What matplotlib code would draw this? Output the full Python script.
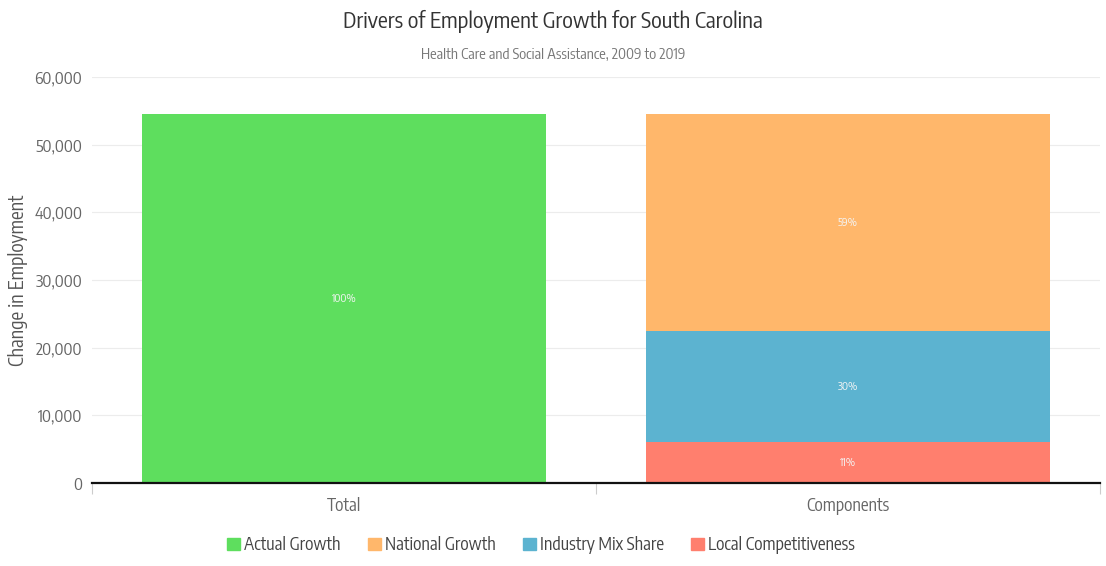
import matplotlib
matplotlib.use("Agg")
import matplotlib.pyplot as plt
from matplotlib.patches import Patch

plt.rcParams['font.family'] = ['Encode Sans Condensed', 'DejaVu Sans']
plt.rcParams['font.weight'] = 'normal'

categories = ["Total", "Components"]
actual_growth = [54500, 0]
local_competitiveness = [0, 6000]
industry_mix = [0, 16400]
national_growth = [0, 32100]
segment_labels = {
    "actual": ["100%", None],
    "local": [None, "11%"],
    "mix": [None, "30%"],
    "national": [None, "59%"],
}
y_ticks = [0, 10000, 20000, 30000, 40000, 50000, 60000]

colors = {
    "actual": "#5ede5e",
    "national": "#ffb76b",
    "mix": "#5cb3d0",
    "local": "#ff7f6e",
}

fig = plt.figure(figsize=(11.06, 5.66), dpi=100)
ax = fig.add_axes([92 / 1106, 1 - 483 / 566, 1008 / 1106, 406 / 566])

x = list(range(len(categories)))
w = 0.8
ax.bar(x, actual_growth, width=w, color=colors["actual"], zorder=2)
ax.bar(x, local_competitiveness, width=w, color=colors["local"], zorder=2)
bottom2 = local_competitiveness
ax.bar(x, industry_mix, width=w, bottom=bottom2, color=colors["mix"], zorder=2)
bottom3 = [a + b for a, b in zip(local_competitiveness, industry_mix)]
ax.bar(x, national_growth, width=w, bottom=bottom3, color=colors["national"], zorder=2)

def label_segments(values, bottoms, labels):
    for i, (v, b, t) in enumerate(zip(values, bottoms, labels)):
        if t:
            ax.text(i, b + v / 2, t, ha="center", va="center",
                    color="#f4f4f4", fontsize=8, zorder=3)

label_segments(actual_growth, [0, 0], segment_labels["actual"])
label_segments(local_competitiveness, [0, 0], segment_labels["local"])
label_segments(industry_mix, bottom2, segment_labels["mix"])
label_segments(national_growth, bottom3, segment_labels["national"])

ax.set_xlim(-0.5, len(categories) - 0.5)
ax.set_ylim(0, 60000)
ax.set_yticks(y_ticks)
ax.set_yticklabels([f"{t:,}" for t in y_ticks])
ax.yaxis.grid(True, color="#ececec", linewidth=0.8, zorder=0)
ax.set_axisbelow(True)
ax.tick_params(axis="y", length=0, labelsize=12, labelcolor="#666666", pad=7)

ax.set_xticks(x)
ax.set_xticklabels(categories)
ax.set_xticks([-0.5, 0.5, 1.5], minor=True)
ax.tick_params(axis="x", which="major", length=0, labelsize=12.5,
               labelcolor="#666666", pad=10)
ax.tick_params(axis="x", which="minor", length=8, color="#cccccc", width=0.8)

for s in ["top", "right", "left"]:
    ax.spines[s].set_visible(False)
ax.spines["bottom"].set_color("#111111")
ax.spines["bottom"].set_linewidth(1.6)
ax.spines["bottom"].set_zorder(4)

fig.text(18 / 1106, 1 - 280 / 566, "Change in Employment", rotation=90,
         ha="center", va="center", fontsize=14, color="#555555")

fig.text(553 / 1106, 1 - 21 / 566, "Drivers of Employment Growth for South Carolina",
         ha="center", va="center", fontsize=16, color="#333333")
fig.text(553 / 1106, 1 - 55 / 566, "Health Care and Social Assistance, 2009 to 2019",
         ha="center", va="center", fontsize=10.5, color="#777777")

handles = [
    Patch(color=colors["actual"], label="Actual Growth"),
    Patch(color=colors["national"], label="National Growth"),
    Patch(color=colors["mix"], label="Industry Mix Share"),
    Patch(color=colors["local"], label="Local Competitiveness"),
]
leg = fig.legend(handles=handles, loc="center", bbox_to_anchor=(541 / 1106, 1 - 545 / 566),
                 ncol=4, frameon=False, fontsize=12.5, handlelength=0.75, handleheight=0.75,
                 handletextpad=0.2, columnspacing=1.6)
for t in leg.get_texts():
    t.set_color("#444444")

fig.savefig("out.png", dpi=100)
